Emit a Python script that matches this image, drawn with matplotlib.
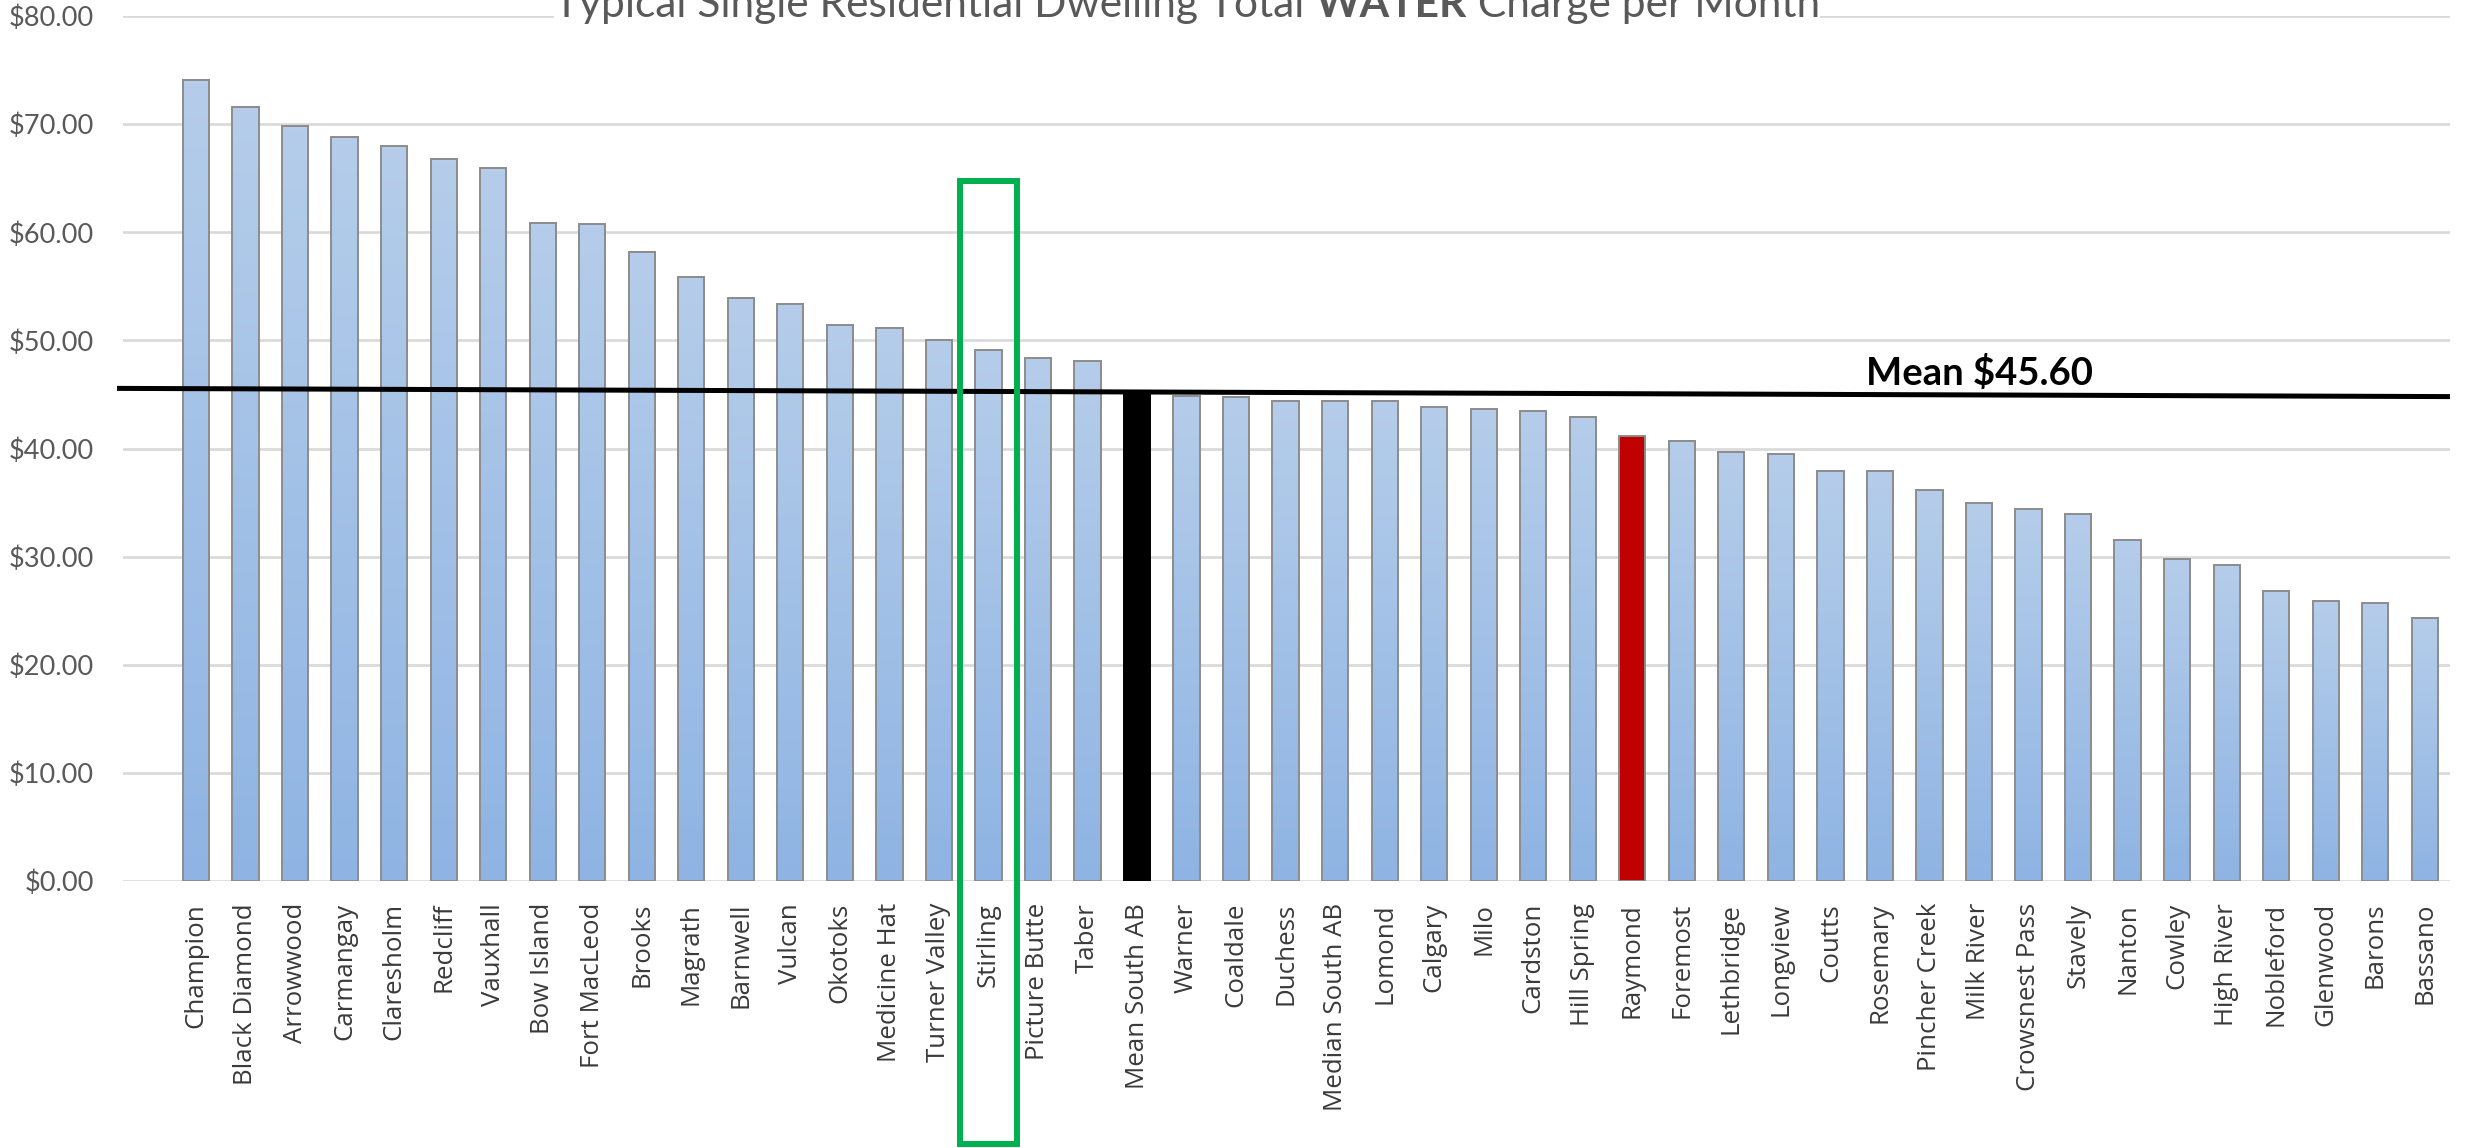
import numpy as np
import matplotlib
matplotlib.use("Agg")
import matplotlib.pyplot as plt
from matplotlib.colors import LinearSegmentedColormap
from matplotlib.patches import Rectangle
import matplotlib.transforms as mtransforms

categories = ["Champion", "Black Diamond", "Arrowwood", "Carmangay", "Claresholm",
              "Redcliff", "Vauxhall", "Bow Island", "Fort MacLeod", "Brooks",
              "Magrath", "Barnwell", "Vulcan", "Okotoks", "Medicine Hat",
              "Turner Valley", "Stirling", "Picture Butte", "Taber", "Mean South AB",
              "Warner", "Coaldale", "Duchess", "Median South AB", "Lomond",
              "Calgary", "Milo", "Cardston", "Hill Spring", "Raymond",
              "Foremost", "Lethbridge", "Longview", "Coutts", "Rosemary",
              "Pincher Creek", "Milk River", "Crowsnest Pass", "Stavely", "Nanton",
              "Cowley", "High River", "Nobleford", "Glenwood", "Barons", "Bassano"]
values = [74.1, 71.6, 69.85, 68.8, 67.95,
          66.8, 65.9, 60.9, 60.75, 58.2,
          55.85, 53.95, 53.4, 51.45, 51.15,
          50.0, 49.1, 48.35, 48.05, 45.3,
          44.85, 44.8, 44.4, 44.4, 44.4,
          43.8, 43.65, 43.5, 42.95, 41.2,
          40.7, 39.7, 39.5, 37.95, 37.95,
          36.15, 34.95, 34.4, 33.9, 31.55,
          29.8, 29.2, 26.85, 25.85, 25.7, 24.35]
y_ticks = [0, 10, 20, 30, 40, 50, 60, 70, 80]
y_tick_labels = ["$%.2f" % v for v in y_ticks]
title_parts = ["Typical Single Residential Dwelling Total ", "WATER", " Charge per Month"]
mean_label = "Mean $45.60"
mean_line_ends = [45.56, 44.80]
mean_category = "Mean South AB"
red_category = "Raymond"
boxed_category = "Stirling"

W, H = 2468, 1148
fig = plt.figure(figsize=(W / 100, H / 100), dpi=100)
ax_left, ax_right, ax_top, ax_bottom = 123, 2450, 16, 881
ax = fig.add_axes([ax_left / W, 1 - ax_bottom / H, (ax_right - ax_left) / W, (ax_bottom - ax_top) / H])

x = np.arange(len(categories))
width = 0.53
bars = ax.bar(x, values, width, facecolor="none", edgecolor="#8C8C8C", linewidth=1.4, zorder=3)
cmap = LinearSegmentedColormap.from_list("barfill", ["#8FB4E3", "#B5CDEA"])
grad = np.linspace(0, 1, 200).reshape(-1, 1)
for b, cat in zip(bars, categories):
    if cat == mean_category:
        b.set_facecolor("black")
        b.set_edgecolor("black")
    elif cat == red_category:
        b.set_facecolor("#C00000")
    else:
        ax.imshow(grad, extent=[b.get_x(), b.get_x() + b.get_width(), 0, b.get_height()],
                  origin="lower", cmap=cmap, aspect="auto", zorder=2, interpolation="bilinear")

ax.set_xlim(-1.474, 45.51)
ax.set_ylim(0, 80)
ax.set_yticks(y_ticks)
ax.set_yticklabels(y_tick_labels, fontfamily="Lato", fontsize=19.5, color="#595959")
ax.set_xticks(x)
ax.set_xticklabels(categories, rotation=90, ha="center", va="top",
                   fontfamily="Open Sans", fontsize=18.6, color="#3A3A3A")
ax.tick_params(axis="both", length=0)
ax.tick_params(axis="y", pad=21)
ax.tick_params(axis="x", pad=15.8)
ax.yaxis.grid(True, color="#D9D9D9", linewidth=1.9)
ax.set_axisbelow(True)
for s in ax.spines.values():
    s.set_visible(False)

# mean line
blend_xa = mtransforms.blended_transform_factory(ax.transAxes, ax.transData)
ax.plot([(117 - ax_left) / (ax_right - ax_left), 1.0], mean_line_ends, transform=blend_xa,
        color="black", linewidth=3.6, solid_capstyle="butt", clip_on=False, zorder=4)

# mean label
fig.text(1979 / W, 1 - 385 / H, mean_label, ha="center", va="baseline",
         fontfamily="Lato", fontweight="bold", fontsize=27.5, color="black")

# green box around boxed category
idx = categories.index(boxed_category)
blend_dx = mtransforms.blended_transform_factory(ax.transData, ax.transAxes)
box_top = (ax_bottom - 181) / (ax_bottom - ax_top)
box_bot = (ax_bottom - 1144) / (ax_bottom - ax_top)
ax.add_patch(Rectangle((idx - 0.575, box_bot), 1.15, box_top - box_bot, transform=blend_dx,
                       fill=False, edgecolor="#00B050", linewidth=4.3, clip_on=False, zorder=5))

# title with bold WATER (cut off at the top edge, as in the reference)
fig.canvas.draw()
renderer = fig.canvas.get_renderer()
title_size = 31
weights = ["normal", "bold", "normal"]
texts = []
for part, wgt in zip(title_parts, weights):
    t = fig.text(0, 1 - 17 / H, part, ha="left", va="baseline", fontfamily="Lato",
                 fontweight=wgt, fontsize=title_size, color="#595959",
                 bbox=dict(facecolor="white", edgecolor="none", pad=0))
    texts.append(t)
widths = [t.get_window_extent(renderer).width for t in texts]
total = sum(widths)
scale = 1264 / total
for t in texts:
    t.set_fontsize(title_size * scale)
widths = [t.get_window_extent(renderer).width for t in texts]
total = sum(widths)
xpos = 1187 - total / 2
for t, w in zip(texts, widths):
    t.set_x(xpos / W)
    xpos += w

fig.savefig("out.png", dpi=100, facecolor="white")
